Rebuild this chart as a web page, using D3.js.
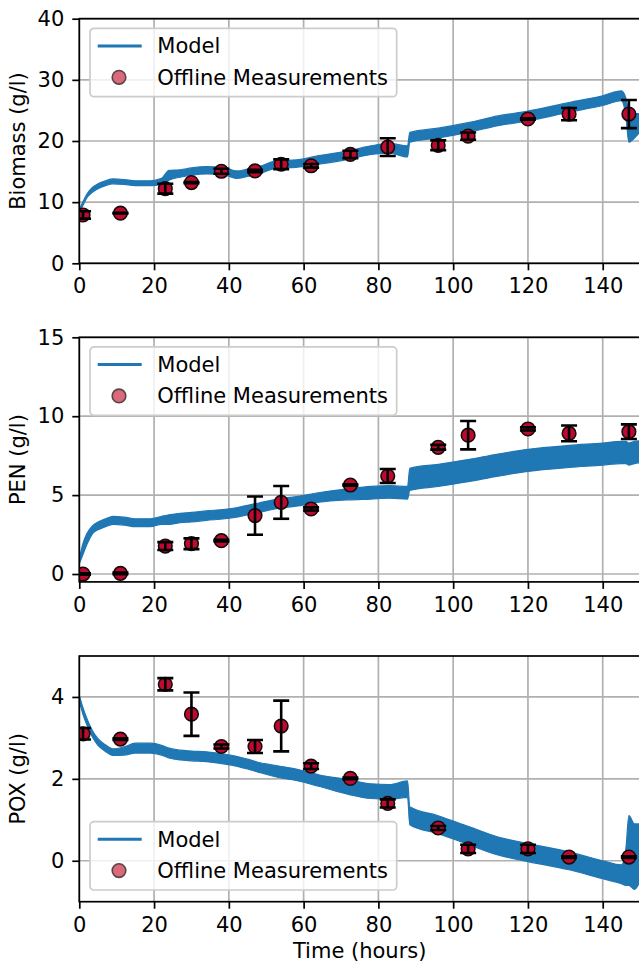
<!DOCTYPE html>
<html>
<head>
<meta charset="utf-8">
<script src="https://cdn.jsdelivr.net/npm/d3@7"></script>
<style>
  body { margin: 0; background: #fff; }
  svg { display: block; font-family: "DejaVu Sans", sans-serif; }
</style>
</head>
<body>
<div id="container"></div>
<script>
// sample times of the offline measurements (hours)
const sampleTimes = [1, 11, 23, 30, 38, 47, 54, 62, 72.5, 82.5, 96, 104, 120, 131, 147];

const biomassMeas = [7.9, 8.2, 12.2, 13.2, 15.05, 15.1, 16.2, 15.95, 17.8, 19.0, 19.3, 20.8, 23.6, 24.4, 24.4];
const biomassErr  = [0.6, 0.05, 0.8, 0.1, 0.4, 0.2, 0.8, 0.3, 0.6, 1.45, 0.8, 0.6, 0.1, 1.0, 2.3];
const penMeas = [0.0, 0.04, 1.77, 1.92, 2.11, 3.7, 4.54, 4.12, 5.64, 6.21, 8.03, 8.8, 9.19, 8.91, 9.02];
const penErr  = [0.05, 0.05, 0.25, 0.34, 0.05, 1.21, 1.04, 0.1, 0.05, 0.44, 0.15, 0.9, 0.1, 0.5, 0.46];
const poxMeas = [3.1, 2.97, 4.31, 3.58, 2.79, 2.79, 3.29, 2.31, 2.01, 1.4, 0.8, 0.29, 0.29, 0.09, 0.09];
const poxErr  = [0.14, 0.02, 0.15, 0.53, 0.05, 0.16, 0.62, 0.07, 0.02, 0.1, 0.05, 0.1, 0.1, 0.02, 0.02];

// model output: noisy signal, kept as its lower / upper envelope
const modelTime = [0, 1, 2, 3.5, 5, 7, 9, 12, 15, 19, 22, 24, 27, 30, 34, 39, 42, 45, 48, 53,
  58, 64, 72, 78, 83, 87.8, 88.4, 96, 104, 112, 120, 131, 140, 145, 146.2, 147, 148.5, 150];
const biomassLo = [8.4, 9.5, 10.7, 11.6, 12.2, 12.7, 13.0, 12.9, 12.7, 12.7, 12.9, 13.6, 14.1, 14.4, 14.6, 14.4, 13.9, 14.2, 14.6, 15.6,
  15.7, 16.2, 17.0, 17.8, 18.0, 17.4, 19.8, 20.5, 21.4, 22.5, 23.3, 24.7, 25.8, 26.6, 24.0, 19.8, 20.5, 21.5];
const biomassHi = [8.8, 10.1, 11.3, 12.4, 13.0, 13.5, 13.8, 13.7, 13.5, 13.5, 13.9, 15.2, 15.3, 15.6, 15.8, 15.6, 15.1, 15.4, 15.8, 16.8,
  16.9, 17.6, 18.4, 19.2, 19.6, 19.2, 21.4, 22.1, 23.0, 24.1, 24.9, 26.3, 27.4, 28.2, 27.0, 24.8, 24.5, 24.5];
const penLo = [0.65, 1.25, 1.85, 2.55, 2.8, 3.0, 3.15, 3.1, 3.0, 3.0, 3.15, 3.15, 3.25, 3.3, 3.4, 3.5, 3.6, 3.75, 3.9, 4.15,
  4.3, 4.55, 4.7, 4.75, 4.8, 4.75, 5.3, 5.55, 5.85, 6.2, 6.5, 6.75, 6.9, 7.0, 7.0, 6.9, 7.0, 7.05];
const penHi = [0.95, 1.95, 2.55, 3.05, 3.3, 3.5, 3.65, 3.6, 3.5, 3.5, 3.65, 3.75, 3.85, 3.9, 4.0, 4.1, 4.2, 4.35, 4.5, 4.75,
  4.9, 5.15, 5.4, 5.55, 5.6, 5.55, 6.7, 6.95, 7.25, 7.6, 7.9, 8.15, 8.3, 8.4, 8.4, 8.3, 8.4, 8.45];
const poxLo = [3.9, 3.57, 3.32, 3.02, 2.82, 2.67, 2.57, 2.58, 2.63, 2.63, 2.58, 2.51, 2.46, 2.44, 2.42, 2.36, 2.31, 2.24, 2.16, 2.04,
  1.96, 1.82, 1.62, 1.52, 1.5, 1.55, 0.88, 0.66, 0.4, 0.14, -0.02, -0.22, -0.44, -0.56, -0.6, -0.6, -0.7, -0.5];
const poxHi = [4.04, 3.73, 3.48, 3.18, 2.98, 2.83, 2.73, 2.78, 2.87, 2.87, 2.82, 2.75, 2.7, 2.68, 2.66, 2.6, 2.55, 2.48, 2.4, 2.32,
  2.24, 2.1, 1.98, 1.88, 1.86, 1.95, 1.32, 1.1, 0.84, 0.58, 0.42, 0.22, 0.0, -0.1, 0.3, 1.1, 0.9, 0.9];

const xTicks = [0, 20, 40, 60, 80, 100, 120, 140];
const legendLabels = ['Model', 'Offline Measurements'];

// panel setup
const panels = [
  { label: 'Biomass (g/l)', yDomain: [0, 40], yTicks: [0, 10, 20, 30, 40], top: 18.7, bottom: 263.3,
    lo: biomassLo, hi: biomassHi, meas: biomassMeas, err: biomassErr, legend: 'top' },
  { label: 'PEN (g/l)', yDomain: [-0.5, 15], yTicks: [0, 5, 10, 15], top: 337.3, bottom: 581.9,
    lo: penLo, hi: penHi, meas: penMeas, err: penErr, legend: 'top' },
  { label: 'POX (g/l)', yDomain: [-1, 5], yTicks: [0, 2, 4], top: 656, bottom: 901.7,
    lo: poxLo, hi: poxHi, meas: poxMeas, err: poxErr, legend: 'bottom' }
];

const W = 639, H = 962;
const left = 79.3, right = 640.1;
const fs = 21;
const blue = '#1f77b4';

const svg = d3.select('#container').append('svg')
  .attr('width', W).attr('height', H);

const x = d3.scaleLinear().domain([0, 150]).range([left, right]);

panels.forEach((p, i) => {
  const y = d3.scaleLinear().domain(p.yDomain).range([p.bottom, p.top]);
  const g = svg.append('g');

  const clipId = 'clip' + i;
  g.append('clipPath').attr('id', clipId)
    .append('rect')
      .attr('x', left).attr('y', p.top)
      .attr('width', right - left).attr('height', p.bottom - p.top);

  // grid
  g.append('g').selectAll('line').data(xTicks).join('line')
    .attr('x1', d => x(d)).attr('x2', d => x(d))
    .attr('y1', p.top).attr('y2', p.bottom)
    .attr('stroke', '#b0b0b0').attr('stroke-width', 1.7);
  g.append('g').selectAll('line').data(p.yTicks).join('line')
    .attr('x1', left).attr('x2', right)
    .attr('y1', d => y(d)).attr('y2', d => y(d))
    .attr('stroke', '#b0b0b0').attr('stroke-width', 1.7);

  // model band
  const rows = modelTime.map((t, k) => ({ t, lo: p.lo[k], hi: p.hi[k] }));
  const area = d3.area()
    .x(d => x(d.t))
    .y0(d => y(d.lo))
    .y1(d => y(d.hi))
    .curve(d3.curveMonotoneX);
  g.append('path')
    .datum(rows)
    .attr('clip-path', `url(#${clipId})`)
    .attr('fill', blue)
    .attr('stroke', blue)
    .attr('stroke-width', 1.2)
    .attr('stroke-linejoin', 'round')
    .attr('d', area);

  // measurements with error bars
  const pts = sampleTimes.map((t, k) => ({ t, v: p.meas[k], e: p.err[k] }));
  const eb = g.append('g').attr('clip-path', `url(#${clipId})`);
  const bars = eb.selectAll('g').data(pts).join('g');
  bars.append('line')
    .attr('x1', d => x(d.t)).attr('x2', d => x(d.t))
    .attr('y1', d => y(d.v - d.e)).attr('y2', d => y(d.v + d.e))
    .attr('stroke', '#000').attr('stroke-width', 2.6);
  [-1, 1].forEach(s => {
    bars.append('line')
      .attr('x1', d => x(d.t) - 8).attr('x2', d => x(d.t) + 8)
      .attr('y1', d => y(d.v + s * d.e)).attr('y2', d => y(d.v + s * d.e))
      .attr('stroke', '#000').attr('stroke-width', 2.6);
  });
  bars.insert('circle', 'line')
    .attr('cx', d => x(d.t)).attr('cy', d => y(d.v))
    .attr('r', 6.8)
    .attr('fill', '#bf0a30')
    .attr('stroke', '#1a0a0c').attr('stroke-width', 1.6);

  // frame (left, bottom, top spines)
  g.append('rect')
    .attr('x', left).attr('y', p.top)
    .attr('width', right - left + 10).attr('height', p.bottom - p.top)
    .attr('fill', 'none').attr('stroke', '#000').attr('stroke-width', 1.7);

  // axes
  const ax = g.append('g')
    .attr('transform', `translate(0,${p.bottom})`)
    .call(d3.axisBottom(x).tickValues(xTicks).tickFormat(d3.format('d'))
      .tickSize(7).tickSizeOuter(0).tickPadding(8));
  const ay = g.append('g')
    .attr('transform', `translate(${left},0)`)
    .call(d3.axisLeft(y).tickValues(p.yTicks).tickFormat(d3.format('d'))
      .tickSize(7).tickSizeOuter(0).tickPadding(8));
  [ax, ay].forEach(a => {
    a.select('.domain').remove();
    a.selectAll('line').attr('stroke', '#000').attr('stroke-width', 1.7);
    a.selectAll('text').attr('font-size', fs).attr('fill', '#000')
      .attr('font-family', '"DejaVu Sans", sans-serif');
  });

  g.append('text')
    .attr('transform', `translate(25,${(p.top + p.bottom) / 2}) rotate(-90)`)
    .attr('text-anchor', 'middle')
    .attr('font-size', fs)
    .text(p.label);

  // legend
  const lw = 306.7, lh = 68.4;
  const lx = 90;
  const ly = p.legend === 'top' ? p.top + 9.6 : p.bottom - 11.7 - lh;
  const lg = g.append('g').attr('transform', `translate(${lx},${ly})`);
  lg.append('rect')
    .attr('width', lw).attr('height', lh).attr('rx', 4)
    .attr('fill', '#fff').attr('fill-opacity', 0.8)
    .attr('stroke', '#cccccc').attr('stroke-width', 1.7);
  lg.append('line')
    .attr('x1', 7.7).attr('x2', 51.7).attr('y1', 17.7).attr('y2', 17.7)
    .attr('stroke', blue).attr('stroke-width', 3);
  lg.append('circle')
    .attr('cx', 29).attr('cy', 49).attr('r', 6.8)
    .attr('fill', '#d9697b').attr('stroke', '#5a4446').attr('stroke-width', 1.6);
  lg.selectAll('text').data(legendLabels).join('text')
    .attr('x', 67.3).attr('y', (d, k) => 25 + k * 31.4)
    .attr('font-size', fs)
    .text(d => d);
});

svg.append('text')
  .attr('x', (left + right) / 2).attr('y', 958)
  .attr('text-anchor', 'middle')
  .attr('font-size', fs)
  .text('Time (hours)');
</script>
</body>
</html>
